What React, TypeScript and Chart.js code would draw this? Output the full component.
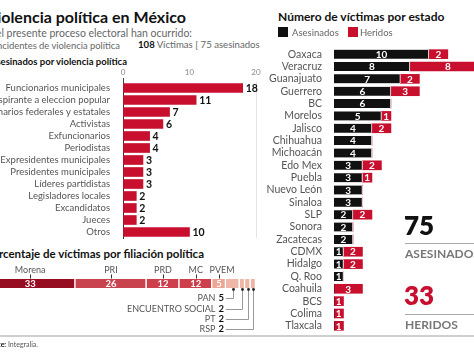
import React, { useEffect, useRef } from "react";
import { Chart, registerables } from "chart.js";
Chart.register(...registerables);

const FONT = "Lato, 'Open Sans', sans-serif";
Chart.defaults.font.family = FONT;

const roleLabels = [
  "Funcionarios municipales",
  "Aspirante a eleccion popular",
  "Funcionarios federales y estatales",
  "Activistas",
  "Exfuncionarios",
  "Periodistas",
  "Expresidentes municipales",
  "Presidentes municipales",
  "Líderes partidistas",
  "Legisladores locales",
  "Excandidatos",
  "Jueces",
  "Otros",
];
const roleValues = [18, 11, 7, 6, 4, 4, 3, 3, 3, 2, 2, 2, 10];
const roleTicks = [0, 10, 20];

const partyLabels = ["Morena", "PRI", "PRD", "MC", "PVEM", "PAN", "ENCUENTRO SOCIAL", "PT", "RSP"];
const partyValues = [33, 26, 12, 12, 5, 5, 2, 2, 2];
const partyColors = ["#960c20", "#c9434e", "#cc3f4b", "#cc3f4b", "#eda493", "#eeb6a6", "#eeb6a6", "#eeb6a6", "#eeb6a6"];

const stateLabels = [
  "Oaxaca", "Veracruz", "Guanajuato", "Guerrero", "BC", "Morelos", "Jalisco", "Chihuahua",
  "Michoacán", "Edo Mex", "Puebla", "Nuevo León", "Sinaloa", "SLP", "Sonora", "Zacatecas",
  "CDMX", "Hidalgo", "Q. Roo", "Coahuila", "BCS", "Colima", "Tlaxcala",
];
const killedValues = [10, 8, 7, 6, 6, 5, 4, 4, 4, 3, 3, 3, 3, 2, 2, 2, 1, 1, 1, 0, 0, 0, 0];
const injuredValues = [2, 8, 2, 3, 0, 1, 2, 0, 0, 2, 1, 0, 0, 2, 0, 0, 2, 2, 0, 3, 1, 1, 1];
const totalKilled = 75;
const totalInjured = 33;
const totalVictims = 108;

const RED = "#c8102e";

function T(props: { x?: number; right?: number; y: number; size: number; children: any; style?: any }) {
  const { x, right, y, size, children, style } = props;
  const s: any = {
    position: "absolute",
    top: y - 0.887 * size,
    fontSize: size,
    lineHeight: size + "px",
    whiteSpace: "nowrap",
    fontFamily: FONT,
    color: "#555",
    ...style,
  };
  if (right !== undefined) s.right = 474 - right;
  else s.left = x;
  return <div style={s}>{children}</div>;
}

const noVPad = (s: any) => {
  s.paddingTop = 0;
  s.paddingBottom = 0;
};

function RoleChart() {
  const ref = useRef<HTMLCanvasElement>(null);
  useEffect(() => {
    const valuePlugin = {
      id: "roleVals",
      afterDatasetsDraw(chart: any) {
        const ctx = chart.ctx;
        const meta = chart.getDatasetMeta(0);
        ctx.save();
        ctx.font = `bold 10.5px ${FONT}`;
        ctx.fillStyle = "#111";
        ctx.textBaseline = "middle";
        ctx.textAlign = "left";
        meta.data.forEach((el: any, i: number) => {
          ctx.fillText(String(roleValues[i]), el.x + 3, el.y + 0.5);
        });
        ctx.restore();
      },
    };
    const c = new Chart(ref.current as HTMLCanvasElement, {
      type: "bar",
      data: {
        labels: roleLabels,
        datasets: [{ data: roleValues, backgroundColor: RED, barThickness: 9 }],
      },
      options: {
        indexAxis: "y",
        responsive: false,
        animation: false,
        layout: { padding: { right: 14, top: 0, bottom: 2, left: 0 } },
        plugins: { legend: { display: false }, tooltip: { enabled: false } },
        scales: {
          x: {
            position: "top",
            min: 0,
            max: 20,
            afterBuildTicks: (s: any) => {
              s.ticks = roleTicks.map((v) => ({ value: v }));
            },
            ticks: { font: { size: 8 }, color: "#888", padding: 1, maxRotation: 0 },
            grid: {
              color: (c: any) => (c.tick && c.tick.value === 20 ? "#e4e4e4" : "rgba(0,0,0,0)"),
              tickColor: (c: any) => (c.tick && c.tick.value === 0 ? "#444" : "rgba(0,0,0,0)"),
              tickLength: 4,
            },
            border: { display: false },
            afterFit: (s: any) => {
              s.height = 18;
            },
          },
          y: {
            afterFit: (s: any) => {
              s.width = 163;
              noVPad(s);
            },
            ticks: { font: { size: 9.5 }, color: "#555", padding: 5, autoSkip: false },
            grid: { display: false },
            border: { color: "#333", width: 1 },
          },
        },
      } as any,
      plugins: [valuePlugin],
    });
    return () => c.destroy();
  }, []);
  return <canvas ref={ref} width={310} height={176} style={{ position: "absolute", left: -40, top: 64, width: 310, height: 176 }} />;
}

function PartyChart() {
  const ref = useRef<HTMLCanvasElement>(null);
  useEffect(() => {
    const left = -15;
    const top = 262;
    const plugin = {
      id: "partyLabels",
      afterDatasetsDraw(chart: any) {
        const ctx = chart.ctx;
        ctx.save();
        const barBottom = 288 - top;
        const rowYs = [298, 309, 319, 329];
        partyValues.forEach((v, i) => {
          const el: any = chart.getDatasetMeta(i).data[0];
          const cx = (el.x + el.base) / 2;
          const cy = el.y;
          if (i < 5) {
            ctx.font = `9px ${FONT}`;
            ctx.fillStyle = "#555";
            ctx.textAlign = "center";
            ctx.textBaseline = "middle";
            ctx.fillText(partyLabels[i], cx + (i === 4 ? 3 : 0), 270 - top);
            ctx.strokeStyle = "#333";
            ctx.lineWidth = 1;
            ctx.beginPath();
            ctx.moveTo(Math.round(cx) + 0.5, 274.5 - top);
            ctx.lineTo(Math.round(cx) + 0.5, 278.5 - top);
            ctx.stroke();
            ctx.font = `bold 9.5px ${FONT}`;
            ctx.fillStyle = "#fff";
            ctx.fillText(String(v), cx, cy + 0.5);
          } else {
            const ry = rowYs[i - 5] - top;
            const tx = 224 - left;
            ctx.textBaseline = "middle";
            ctx.textAlign = "right";
            ctx.font = `bold 9.5px ${FONT}`;
            ctx.fillStyle = "#111";
            const num = String(v);
            ctx.fillText(num, tx, ry);
            const nw = ctx.measureText(num).width;
            ctx.font = `9px ${FONT}`;
            ctx.fillStyle = "#555";
            ctx.fillText(partyLabels[i], tx - nw - 3, ry);
            ctx.strokeStyle = "#999";
            ctx.lineWidth = 1;
            const lx = Math.round(cx) + 0.5;
            ctx.beginPath();
            ctx.moveTo(tx + 2, Math.round(ry) + 0.5);
            ctx.lineTo(lx, Math.round(ry) + 0.5);
            ctx.lineTo(lx, barBottom + 1);
            ctx.stroke();
            ctx.fillStyle = "#222";
            ctx.beginPath();
            ctx.arc(lx, barBottom + 1.5, 1.4, 0, Math.PI * 2);
            ctx.fill();
          }
        });
        ctx.restore();
      },
    };
    const c = new Chart(ref.current as HTMLCanvasElement, {
      type: "bar",
      data: {
        labels: [""],
        datasets: partyValues.map((v, i) => ({
          label: partyLabels[i],
          data: [v],
          backgroundColor: partyColors[i],
          borderColor: "#fff",
          borderWidth: { top: 0, bottom: 0, left: 0, right: 1.5 },
          borderSkipped: false,
          barThickness: 9,
        })),
      },
      options: {
        indexAxis: "y",
        responsive: false,
        animation: false,
        layout: { padding: { top: 0, bottom: 31, left: 0, right: 0 } },
        plugins: { legend: { display: false }, tooltip: { enabled: false } },
        scales: {
          x: { stacked: true, display: false, min: 0, max: partyValues.reduce((a, b) => a + b, 0) },
          y: { stacked: true, display: false },
        },
      } as any,
      plugins: [plugin],
    });
    return () => c.destroy();
  }, []);
  return <canvas ref={ref} width={271} height={74} style={{ position: "absolute", left: -15, top: 262, width: 271, height: 74 }} />;
}

function StateChart() {
  const ref = useRef<HTMLCanvasElement>(null);
  useEffect(() => {
    const plugin = {
      id: "stateVals",
      afterDatasetsDraw(chart: any) {
        const ctx = chart.ctx;
        ctx.save();
        ctx.font = `bold 10px ${FONT}`;
        ctx.fillStyle = "#fff";
        ctx.textAlign = "center";
        ctx.textBaseline = "middle";
        [killedValues, injuredValues].forEach((vals, d) => {
          chart.getDatasetMeta(d).data.forEach((el: any, i: number) => {
            if (!vals[i]) return;
            ctx.fillText(String(vals[i]), (el.x + el.base) / 2, el.y + 0.5);
          });
        });
        ctx.restore();
      },
    };
    const c = new Chart(ref.current as HTMLCanvasElement, {
      type: "bar",
      data: {
        labels: stateLabels,
        datasets: [
          { label: "Asesinados", data: killedValues, backgroundColor: "#111", barThickness: 9, borderColor: "#fff", borderWidth: { top: 0, bottom: 0, left: 0, right: 1 }, borderSkipped: false },
          { label: "Heridos", data: injuredValues, backgroundColor: RED, barThickness: 9 },
        ],
      },
      options: {
        indexAxis: "y",
        responsive: false,
        animation: false,
        layout: { padding: 0 },
        plugins: { legend: { display: false }, tooltip: { enabled: false } },
        scales: {
          x: { stacked: true, display: false, min: 0, max: 17.5 },
          y: {
            stacked: true,
            afterFit: (s: any) => {
              s.width = 94;
              noVPad(s);
            },
            ticks: { font: { size: 10.5 }, color: "#555", padding: 4, autoSkip: false },
            grid: { display: false },
            border: { display: false },
          },
        },
      } as any,
      plugins: [plugin],
    });
    return () => c.destroy();
  }, []);
  return <canvas ref={ref} width={260} height={284} style={{ position: "absolute", left: 240, top: 48, width: 260, height: 284 }} />;
}

export default function App() {
  return (
    <div style={{ position: "fixed", left: 0, top: 0, width: 474, height: 355, overflow: "hidden", background: "#fff", fontFamily: FONT }}>
      <T right={186} y={23} size={16} style={{ fontWeight: 700, color: "#111" }}>Violencia política en México</T>
      <T right={192} y={37} size={10.5} style={{ color: "#666" }}>En el presente proceso electoral han ocurrido:</T>
      <T right={120} y={49} size={9.4} style={{ color: "#666" }}>incidentes de violencia política</T>
      <T x={138} y={49} size={9.6} style={{ color: "#666" }}>
        <b style={{ color: "#111" }}>{totalVictims}</b> Víctimas [ {totalKilled} asesinados
      </T>
      <T right={127} y={65} size={9.5} style={{ fontWeight: 700, color: "#111" }}>Asesinados por violencia política</T>
      <RoleChart />
      <T right={204} y={258} size={11.5} style={{ fontWeight: 700, color: "#111" }}>Porcentaje de víctimas por filiación política</T>
      <PartyChart />
      <div style={{ position: "absolute", left: 0, top: 335, width: 474, height: 2, background: "#cfcfcf" }} />
      <T right={38} y={347} size={7} style={{ color: "#555" }}>
        <b style={{ color: "#111" }}>Fuente:</b> Integralia.
      </T>

      <T x={278} y={22} size={12} style={{ fontWeight: 700, color: "#111" }}>Número de víctimas por estado</T>
      <div style={{ position: "absolute", left: 278, top: 27, width: 10, height: 10, background: "#111" }} />
      <T x={292} y={36} size={9.5} style={{ color: "#666" }}>Asesinados</T>
      <div style={{ position: "absolute", left: 348, top: 27, width: 10, height: 10, background: RED }} />
      <T x={360} y={36} size={9.5} style={{ color: "#666" }}>Heridos</T>
      <StateChart />

      <T x={404} y={235} size={26} style={{ fontWeight: 800, color: "#111" }}>{totalKilled}</T>
      <div style={{ position: "absolute", left: 405, top: 243, width: 69, height: 1, background: "#aaa" }} />
      <T x={405} y={259} size={12} style={{ fontWeight: 700, color: "#777" }}>ASESINADOS</T>
      <T x={404} y={305} size={26} style={{ fontWeight: 800, color: RED }}>{totalInjured}</T>
      <div style={{ position: "absolute", left: 405, top: 314, width: 69, height: 1, background: "#aaa" }} />
      <T x={405} y={330} size={12} style={{ fontWeight: 700, color: "#777" }}>HERIDOS</T>
    </div>
  );
}
